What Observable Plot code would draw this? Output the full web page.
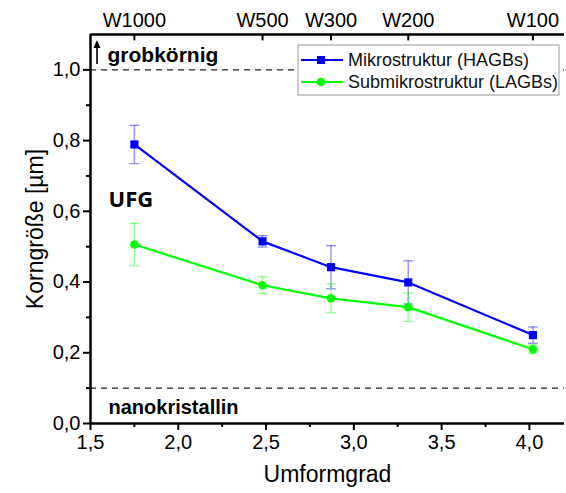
<!DOCTYPE html>
<html>
<head>
<meta charset="utf-8">
<script src="https://cdn.jsdelivr.net/npm/d3@7"></script>
<script src="https://cdn.jsdelivr.net/npm/@observablehq/plot@0.6"></script>
<style>
  body { margin: 0; background: #fff; }
  #chart svg { display: block; }
  g[aria-label="x-axis label"] text, g[aria-label="y-axis label"] text { font-size: 23px; }
</style>
</head>
<body>
<div id="chart"></div>
<script>
// Umformgrad (true strain) of each processed state, with the matching state names
const umformgrad = [1.75, 2.48, 2.87, 3.31, 4.02];
const stufen = ["W1000", "W500", "W300", "W200", "W100"];

// Mean grain size [µm] and its scatter for both boundary types
const hagb = [0.789, 0.515, 0.442, 0.399, 0.250];
const hagbErr = [0.054, 0.016, 0.061, 0.061, 0.023];
const lagb = [0.506, 0.391, 0.354, 0.329, 0.210];
const lagbErr = [0.060, 0.024, 0.041, 0.040, 0.012];

const serien = ["Mikrostruktur (HAGBs)", "Submikrostruktur (LAGBs)"];
const farben = ["#0000ff", "#00ff00"];

// Axis ticks and the coarse / nanocrystalline limits
const xTicks = [1.5, 2.0, 2.5, 3.0, 3.5, 4.0];
const xMinor = [1.75, 2.25, 2.75, 3.25, 3.75];
const yTicks = [0, 0.2, 0.4, 0.6, 0.8, 1.0];
const yMinor = [0.1, 0.3, 0.5, 0.7, 0.9];
const grenzen = [0.1, 1.0];
const xDomain = [1.5, 4.2];
const yDomain = [0, 1.1];

const rows = [];
umformgrad.forEach((x, i) => {
  rows.push({serie: serien[0], x, y: hagb[i], e: hagbErr[i]});
  rows.push({serie: serien[1], x, y: lagb[i], e: lagbErr[i]});
});
const bySerie = s => rows.filter(d => d.serie === s);

const komma = d => d.toFixed(1).replace(".", ",");
const leer = () => "";

// horizontal cap for the error bars
const cap = {
  draw(ctx, size) {
    const w = Math.sqrt(size / Math.PI);
    ctx.moveTo(-w, 0);
    ctx.lineTo(w, 0);
  }
};

const errMarks = (s, c) => [
  Plot.ruleX(bySerie(s), {x: "x", y1: d => d.y - d.e, y2: d => d.y + d.e, stroke: c, strokeOpacity: 0.4, strokeWidth: 1.5}),
  Plot.dot(bySerie(s), {x: "x", y: d => d.y + d.e, symbol: cap, r: 5, stroke: c, strokeOpacity: 0.45, strokeWidth: 1.3}),
  Plot.dot(bySerie(s), {x: "x", y: d => d.y - d.e, symbol: cap, r: 5, stroke: c, strokeOpacity: 0.45, strokeWidth: 1.3})
];

const chart = Plot.plot({
  width: 566,
  height: 493,
  marginLeft: 90,
  marginRight: 2,
  marginTop: 34,
  marginBottom: 70,
  style: {fontFamily: "'Liberation Sans', Arial, sans-serif", fontSize: "20px", color: "#000", background: "#fff"},
  x: {domain: xDomain},
  y: {domain: yDomain},
  marks: [
    Plot.ruleY(grenzen, {stroke: "#222", strokeWidth: 1.3, strokeDasharray: "6,5"}),
    // bottom axis
    Plot.axisX({anchor: "bottom", ticks: xTicks, tickFormat: komma, tickSize: 7, tickPadding: 4, strokeWidth: 2,
      label: "Umformgrad", labelAnchor: "center", labelArrow: "none", labelOffset: 58}),
    Plot.axisX({anchor: "bottom", ticks: xMinor, tickFormat: leer, tickSize: 4, strokeWidth: 2, label: null}),
    // top axis with the state names
    Plot.axisX({anchor: "top", ticks: umformgrad, tickFormat: d => stufen[umformgrad.indexOf(d)], tickSize: 0, tickPadding: 8, label: null}),
    Plot.ruleX(umformgrad, {y1: yDomain[1], y2: yDomain[1] - 0.018, stroke: "#000", strokeWidth: 2}),
    // left axis
    Plot.axisY({anchor: "left", ticks: yTicks, tickFormat: komma, tickSize: 7, tickPadding: 3, strokeWidth: 2,
      label: "Korngröße [µm]", labelAnchor: "center", labelArrow: "none", labelOffset: 64}),
    Plot.axisY({anchor: "left", ticks: yMinor, tickFormat: leer, tickSize: 4, strokeWidth: 2, label: null}),
    Plot.ruleX([xDomain[0]], {stroke: "#000", strokeWidth: 2.5}),
    Plot.ruleY(yDomain, {stroke: "#000", strokeWidth: 2.5}),
    // annotations
    Plot.text(["grobkörnig"], {frameAnchor: "top-left", dx: 17, dy: 21, textAnchor: "start", lineAnchor: "middle", fontWeight: "bold", fontSize: 21}),
    Plot.text(["UFG"], {frameAnchor: "left", dx: 18, dy: -29, textAnchor: "start", lineAnchor: "middle", fontWeight: "bold", fontSize: 22, fontFamily: "'Open Sans', sans-serif"}),
    Plot.text(["nanokristallin"], {frameAnchor: "bottom-left", dx: 18, dy: -16, textAnchor: "start", lineAnchor: "middle", fontWeight: "bold", fontSize: 20}),
    // series
    ...errMarks(serien[0], farben[0]),
    ...errMarks(serien[1], farben[1]),
    Plot.line(bySerie(serien[0]), {x: "x", y: "y", stroke: farben[0], strokeWidth: 2.2}),
    Plot.line(bySerie(serien[1]), {x: "x", y: "y", stroke: farben[1], strokeWidth: 2.2}),
    Plot.dot(bySerie(serien[0]), {x: "x", y: "y", symbol: "square", r: 4.6, fill: farben[0]}),
    Plot.dot(bySerie(serien[1]), {x: "x", y: "y", symbol: "circle", r: 4.3, fill: farben[1]})
  ]
});

document.getElementById("chart").appendChild(chart);

// upward arrow next to "grobkörnig"
const svg = d3.select(chart);
const xs = chart.scale("x");
const ax = xs.apply(xDomain[0]) + 7;
const a = svg.append("g");
a.append("line").attr("x1", ax).attr("x2", ax).attr("y1", 64).attr("y2", 46).attr("stroke", "#000").attr("stroke-width", 1.6);
a.append("path").attr("d", `M${ax - 3.5},${48} L${ax},${40} L${ax + 3.5},${48} Z`).attr("fill", "#000");

// legend box inside the plot
const lg = svg.append("g").attr("font-family", "'Liberation Sans', Arial, sans-serif").attr("font-size", 18).attr("text-anchor", "start");
lg.append("rect").attr("x", 298).attr("y", 45).attr("width", 261).attr("height", 50)
  .attr("fill", "#fff").attr("stroke", "#999").attr("stroke-width", 1);
serien.forEach((s, i) => {
  const yy = 60 + i * 22;
  lg.append("line").attr("x1", 301).attr("x2", 343).attr("y1", yy).attr("y2", yy).attr("stroke", farben[i]).attr("stroke-width", 2.2);
  if (i === 0) lg.append("rect").attr("x", 317).attr("y", yy - 4).attr("width", 8).attr("height", 8).attr("fill", farben[i]);
  else lg.append("circle").attr("cx", 321).attr("cy", yy).attr("r", 4.3).attr("fill", farben[i]);
  lg.append("text").attr("x", 348).attr("y", yy).attr("dy", "0.35em").attr("fill", "#111").text(s);
});
</script>
</body>
</html>
